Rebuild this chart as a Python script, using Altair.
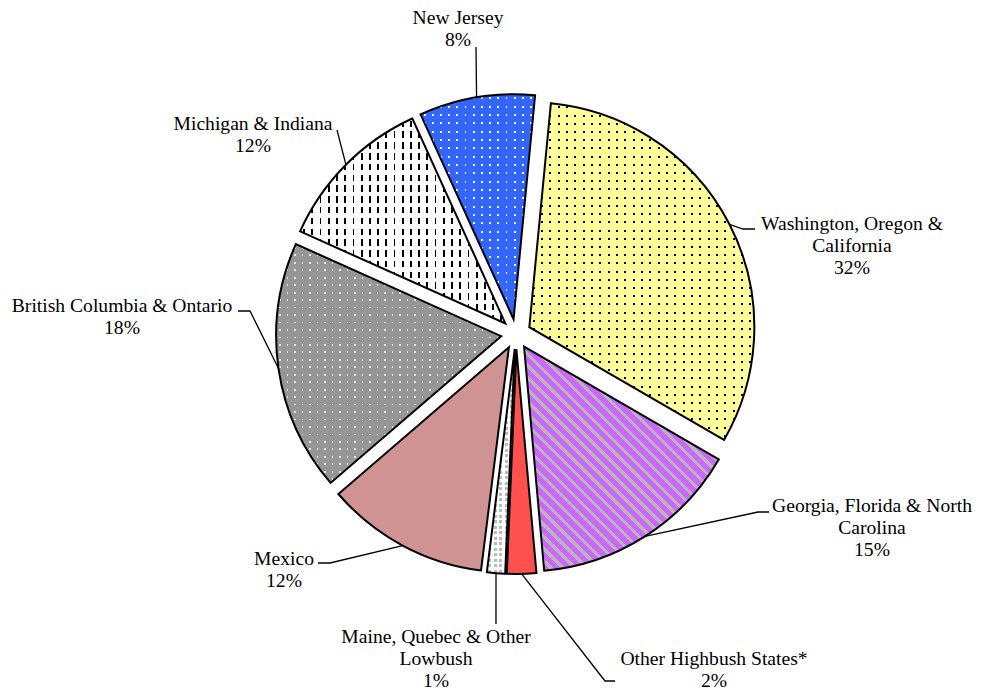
import math
import altair as alt
import pandas as pd

# ---------------- data ----------------
regions = [
    "Washington, Oregon & California",
    "Georgia, Florida & North Carolina",
    "Other Highbush States*",
    "Maine, Quebec & Other Lowbush",
    "Mexico",
    "British Columbia & Ontario",
    "Michigan & Indiana",
    "New Jersey",
]
shares = [31.8, 15.2, 2.1, 1.3, 11.7, 18.0, 11.5, 8.3]
label_names = [
    "Washington, Oregon &\nCalifornia",
    "Georgia, Florida & North\nCarolina",
    "Other Highbush States*",
    "Maine, Quebec & Other\nLowbush",
    "Mexico",
    "British Columbia & Ontario",
    "Michigan & Indiana",
    "New Jersey",
]
fill_colors = ["#FFFF99", "#CC66FF", "#FF5050", "#FFFFFF",
               "#D09393", "#969696", "#FFFFFF", "#3366FF"]

# ---------------- layout (page pixels) ----------------
M = 8                       # page margin
CX, CY = 516 - M, 334 - M   # pie centre in chart coords
R = 225
EXPLODE = 15
START_DEG = 5.5
FONT = "Liberation Serif"
FS = 19.6
LH = 22

# first-line baseline of each label (page coords)
label_xy = [(852, 230), (872, 512), (714, 665), (436, 643),
            (284, 565), (122, 312), (253, 130), (458, 24)]
# leader line via-points after the point on the slice edge (page coords)
leader_via = [
    [(743, 229), (755, 229)],
    [(758, 512), (769, 512)],
    [(605, 681), (615, 681)],
    [(496, 624)],
    [(330, 563), (318, 563)],
    [(250, 311), (238, 311)],
    [(337, 130)],
    [(476, 47)],
]

total = sum(shares)
angles = []
acc = 0.0
for s in shares:
    a0 = START_DEG + 360 * acc / total
    acc += s
    a1 = START_DEG + 360 * acc / total
    angles.append((a0, a1))

df = pd.DataFrame({
    "region": regions,
    "share": shares,
    "order": list(range(len(regions))),
    "label": label_names,
    "lx": [p[0] - M for p in label_xy],
    "ly": [p[1] - M for p in label_xy],
})

# leader lines: start on the outer edge at the slice's mid angle
rows = []
for i, reg in enumerate(regions):
    mid = math.radians((angles[i][0] + angles[i][1]) / 2)
    sx = CX + (EXPLODE + R) * math.sin(mid)
    sy = CY - (EXPLODE + R) * math.cos(mid)
    rows.append({"region": reg, "seq": 0, "x": sx, "y": sy})
    for k, (vx, vy) in enumerate(leader_via[i]):
        rows.append({"region": reg, "seq": k + 1, "x": vx - M, "y": vy - M})
leaders = pd.DataFrame(rows)


def sector_bbox(a0, a1):
    pts = [(0.0, 0.0)]
    cand = [a0, a1] + [k * 90 for k in range(-4, 9) if a0 < k * 90 < a1]
    for a in cand:
        r = math.radians(a)
        pts.append((R * math.sin(r), -R * math.cos(r)))
    xs = [p[0] for p in pts]
    ys = [p[1] for p in pts]
    return max(xs) - min(xs), max(ys) - min(ys)


bbox = {reg: sector_bbox(*angles[i]) for i, reg in enumerate(regions)}
CLEAR = "rgba(255,255,255,0)"


def bands(n, frac, on, off):
    stops = []
    for i in range(n):
        a = i / n
        b = (i + (1 - frac) / 2) / n
        c = (i + (1 + frac) / 2) / n
        d = (i + 1) / n
        stops += [(a, off), (b, off), (b, on), (c, on), (c, off), (d, off)]
    return [alt.GradientStop(offset=round(o, 6), color=col) for o, col in stops]


def grid_layers(name, dot_color, bg_color, px, py, dot_w, dot_h):
    w, h = bbox[name]
    nx = max(1, round(w / px))
    ny = max(1, round(h / py))
    vert = alt.LinearGradient(gradient="linear", x1=0, y1=0, x2=1, y2=0,
                              stops=bands(nx, min(0.95, dot_w * nx / w), dot_color, CLEAR))
    horiz = alt.LinearGradient(gradient="linear", x1=0, y1=0, x2=0, y2=1,
                               stops=bands(ny, min(0.95, dot_h * ny / h), CLEAR, bg_color))
    return [(name, vert), (name, horiz)]


def diag_layer(name, c_bg, c_stripe, period, stripe_w):
    w, h = bbox[name]
    L = (w * w + h * h) / (math.sqrt(2) * h)
    n = max(1, round(L / period))
    g = alt.LinearGradient(gradient="linear", x1=0, y1=1, x2=w / h, y2=0,
                           stops=bands(n, stripe_w / period, c_stripe, c_bg))
    return [(name, g)]


overlays = []
overlays += grid_layers(regions[0], "#000000", "#FFFF99", 8.3, 8.3, 2.0, 2.0)
overlays += diag_layer(regions[1], "#CC66FF", "#B8B8B8", 8.5, 3.2)
overlays += grid_layers(regions[3], "#BBBBBB", "#FFFFFF", 5.5, 5.5, 3.0, 3.0)
overlays += grid_layers(regions[5], "#E6E6E6", "#969696", 7.5, 7.5, 1.8, 1.8)
overlays += grid_layers(regions[6], "#000000", "#FFFFFF", 8.3, 11.0, 1.8, 6.5)
overlays += grid_layers(regions[7], "#FFFFFF", "#3366FF", 8.3, 8.3, 1.8, 1.8)

# ---------------- chart ----------------
rot = math.radians(START_DEG)
base = (
    alt.Chart(df)
    .transform_joinaggregate(total="sum(share)")
    .transform_window(cum="sum(share)", sort=[alt.SortField("order", order="ascending")],
                      frame=[None, 0])
    .transform_calculate(
        a0=f"{rot} + 2*PI*(datum.cum - datum.share)/datum.total",
        a1=f"{rot} + 2*PI*datum.cum/datum.total",
    )
    .transform_calculate(mid="(datum.a0 + datum.a1)/2")
    .transform_calculate(
        px=f"{CX} + {EXPLODE}*sin(datum.mid)",
        py=f"{CY} - {EXPLODE}*cos(datum.mid)",
    )
)

enc = dict(
    theta=alt.Theta("a0:Q", scale=None, stack=False),
    theta2=alt.Theta2("a1:Q"),
    x=alt.X("px:Q", scale=None, axis=None),
    y=alt.Y("py:Q", scale=None, axis=None),
)

slices = base.mark_arc(radius=R, strokeWidth=0).encode(
    fill=alt.Fill("region:N", scale=alt.Scale(domain=regions, range=fill_colors), legend=None),
    **enc,
)

pattern_layers = [
    base.transform_filter(alt.datum.region == name)
    .mark_arc(radius=R, fill=grad, strokeWidth=0)
    .encode(**enc)
    for name, grad in overlays
]

outline = base.mark_arc(radius=R, fillOpacity=0, stroke="black", strokeWidth=2,
                        strokeJoin="miter").encode(**enc)

lines = alt.Chart(leaders).mark_line(color="black", strokeWidth=1.3).encode(
    x=alt.X("x:Q", scale=None, axis=None),
    y=alt.Y("y:Q", scale=None, axis=None),
    detail="region:N",
    order="seq:Q",
)

labels = (
    base.transform_calculate(pct="format(datum.share/datum.total, '.0%')")
    .transform_calculate(txt="datum.label + '\\n' + datum.pct")
    .mark_text(font=FONT, fontSize=FS, lineHeight=LH, lineBreak="\n",
               align="center", baseline="alphabetic", color="black")
    .encode(
        x=alt.X("lx:Q", scale=None, axis=None),
        y=alt.Y("ly:Q", scale=None, axis=None),
        text="txt:N",
    )
)

chart = (
    alt.layer(slices, *pattern_layers, outline, lines, labels)
    .properties(width=966, height=684, autosize=alt.AutoSizeParams(type="none"), padding=0,
                background="white")
    .configure_view(strokeWidth=0)
)

chart.save("out.html", embed_options={"renderer": "svg", "actions": False})
